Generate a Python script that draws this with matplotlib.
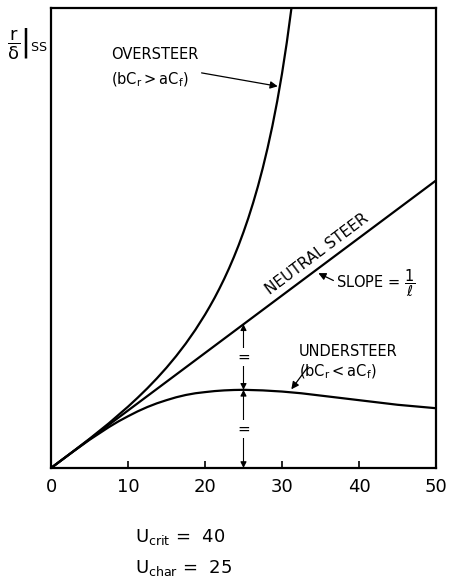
import matplotlib
matplotlib.use('Agg')
import matplotlib.pyplot as plt

# forward speed U (sampled along the curves)
u_neutral = [0, 50]
r_neutral = [0, 50]

u_under = [0, 2.5, 3.75, 5, 6.25, 7.5, 8.75, 10, 11.25, 12.5, 13.75, 15,
           16.25, 17.5, 18.75, 20, 21.25, 22.5, 23.75, 25, 27.5, 30,
           32.5, 35, 37.5, 40, 42.5, 45, 47.5, 50]
r_under = [0, 2.5, 3.7, 4.9, 6.0, 7.1, 8.1, 9.0, 9.85, 10.6, 11.25, 11.8,
           12.3, 12.7, 13.0, 13.2, 13.38, 13.5, 13.57, 13.6, 13.5, 13.3,
           13.0, 12.6, 12.2, 11.8, 11.4, 11.0, 10.7, 10.4]

u_over = [0, 2.5, 5, 7.5, 10, 11.25, 12.5, 13.75, 15, 16.25, 17.5, 18.75,
          20, 20.625, 21.25, 21.875, 22.5, 23.125, 23.75, 24.375, 25,
          25.625, 26.25, 26.875, 27.5, 28.125, 28.75, 29.375, 30, 30.625,
          31.25, 31.6]
r_over = [0, 2.51, 5.08, 7.77, 10.67, 12.22, 13.85, 15.59, 17.45, 19.46,
          21.64, 24.03, 26.67, 28.10, 29.60, 31.21, 32.91, 34.73, 36.68,
          38.77, 41.03, 43.46, 46.11, 48.99, 52.15, 55.63, 59.47, 63.76,
          68.57, 74.01, 80.2, 84.06]

u_char = 25
u_crit = 40
xticks = [0, 10, 20, 30, 40, 50]

plt.rcParams['mathtext.default'] = 'regular'
fig = plt.figure(figsize=(4.49, 5.84), dpi=100)
ax = fig.add_axes([0.1136, 0.1986, 0.8574, 0.7877])

lw = 1.6
ax.plot(u_neutral, r_neutral, color='black', lw=lw)
ax.plot(u_under, r_under, color='black', lw=lw)
ax.plot(u_over, r_over, color='black', lw=lw)

ax.set_xlim(0, 50)
ax.set_ylim(0, 80)
ax.set_xticks(xticks)
ax.set_yticks([])
ax.tick_params(axis='x', direction='in', length=5, width=1.2, pad=7,
               labelsize=13)
for s in ax.spines.values():
    s.set_linewidth(1.6)

txt = dict(color='black', fontsize=10.5)
arr = dict(arrowstyle='-|>', color='black', lw=0.9, mutation_scale=11)

# oversteer
ax.text(7.8, 72.0, 'OVERSTEER', ha='left', va='center', **txt)
ax.text(7.8, 67.5, r'$(bC_r > aC_f)$', ha='left', va='center', **txt)
ax.annotate('', xy=(29.8, 66.3), xytext=(19.2, 68.8), arrowprops=arr)

# neutral
ax.text(34.6, 37.2, 'NEUTRAL STEER', rotation=36.9, ha='center',
        va='center', rotation_mode='anchor', fontsize=11)
ax.text(37.0, 32.2, r'SLOPE = $\dfrac{1}{\ell}$', ha='left', va='center',
        **txt)
ax.annotate('', xy=(34.4, 34.1), xytext=(37.0, 32.4), arrowprops=arr)

# understeer
ax.text(32.2, 20.3, 'UNDERSTEER', ha='left', va='center', **txt)
ax.text(32.2, 16.7, r'$(bC_r < aC_f)$', ha='left', va='center', **txt)
ax.annotate('', xy=(31.0, 13.3), xytext=(33.6, 18.0), arrowprops=arr)

# equal segments at U_char
darr = dict(arrowstyle='<|-|>', color='black', lw=0.8, mutation_scale=9,
            shrinkA=0, shrinkB=0)
ax.annotate('', xy=(u_char, 25), xytext=(u_char, 13.6), arrowprops=darr)
ax.annotate('', xy=(u_char, 13.6), xytext=(u_char, 0), arrowprops=darr)
ax.text(u_char, 19.3, '=', ha='center', va='center', fontsize=11,
        bbox=dict(facecolor='white', edgecolor='none', pad=1))
ax.text(u_char, 6.8, '=', ha='center', va='center', fontsize=11,
        bbox=dict(facecolor='white', edgecolor='none', pad=1))

# y label
fig.text(0.015, 0.925, r'$\left.\dfrac{r}{\delta}\right|_{SS}$', ha='left',
         va='center', fontsize=13)

# bottom notes
fig.text(0.30, 0.080, r'$U_{crit}$ =  %d' % u_crit, ha='left', va='center',
         fontsize=13)
fig.text(0.30, 0.027, r'$U_{char}$ =  %d' % u_char, ha='left', va='center',
         fontsize=13)

fig.savefig('out.png', dpi=100)
